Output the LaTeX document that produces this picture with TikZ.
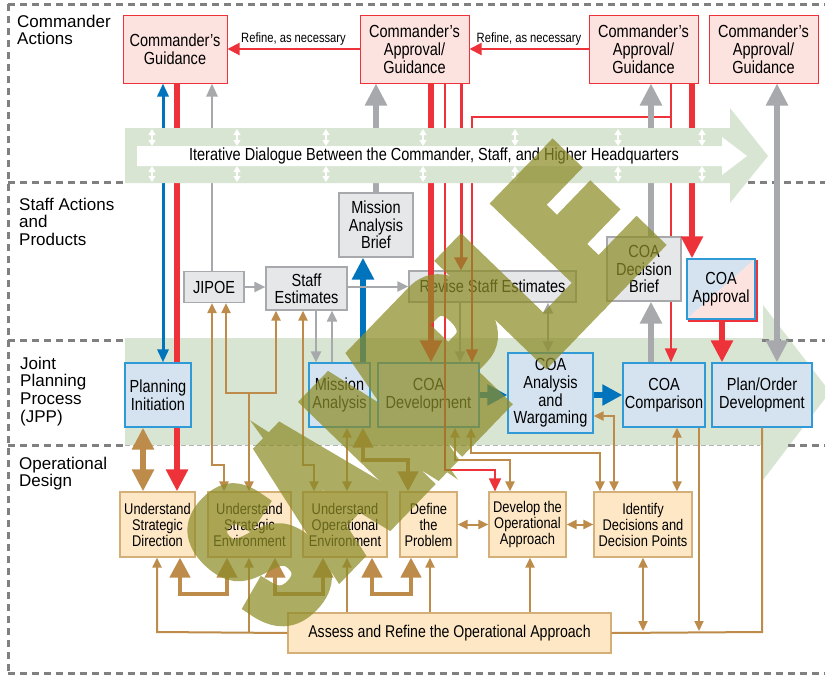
\documentclass[tikz,border=0pt]{standalone}
\usepackage{fontspec}
\setmainfont{Liberation Sans}
\newfontfamily\cond[FakeStretch=0.83]{Liberation Sans}
\newfontfamily\wmfont[FakeStretch=0.66,FakeBold=10]{Liberation Sans}
\usetikzlibrary{arrows.meta,calc}
\definecolor{cred}{HTML}{EE3239}
\definecolor{cpink}{HTML}{FDE3DF}
\definecolor{cblue}{HTML}{0073BD}
\definecolor{cjppb}{HTML}{2F9AD6}
\definecolor{cjppf}{HTML}{D5E3F0}
\definecolor{cgrayl}{HTML}{A7A9AC}
\definecolor{cgrayf}{HTML}{E6E7E8}
\definecolor{corg}{HTML}{BD8B4A}
\definecolor{corgf}{HTML}{FEE7C5}
\definecolor{corgb}{HTML}{D4AF78}
\definecolor{cgreen}{HTML}{D8E5D3}
\definecolor{cdash}{HTML}{808080}
\definecolor{cwm}{RGB}{140,140,40}
\pgfdeclarelayer{bg}
\pgfdeclarelayer{under}
\pgfdeclarelayer{top}
\pgfdeclarelayer{wm}
\pgfsetlayers{bg,under,main,top,wm}
\tikzset{
 tS/.tip={Triangle[width=9pt,length=10pt]},
 tM/.tip={Triangle[width=12pt,length=13pt]},
 tL/.tip={Triangle[width=21pt,length=22pt]},
 tO/.tip={Triangle[width=20pt,length=20pt]},
 tW/.tip={Triangle[width=7pt,length=6pt]},
 boxbase/.style={inner sep=0pt, align=center, line width=1.2pt, text=black},
 cmdbox/.style={boxbase, draw=cred, fill=cpink, line width=1pt, font=\cond\fontsize{17.5}{18}\selectfont},
 stfbox/.style={boxbase, draw=cgrayl, fill=cgrayf, font=\cond\fontsize{17.5}{17.5}\selectfont},
 jppbox/.style={boxbase, draw=cjppb, fill=cjppf, font=\cond\fontsize{17.5}{17.6}\selectfont},
 odbox/.style={boxbase, draw=corgb, fill=corgf, font=\cond\fontsize{15.5}{16}\selectfont},
 seclbl/.style={anchor=north west, inner sep=0pt, align=left, font=\fontsize{17}{17.7}\selectfont},
 reflbl/.style={inner sep=0pt, font=\cond\fontsize{13.5}{14}\selectfont},
 dashln/.style={draw=cdash, line width=3pt, dash pattern=on 7pt off 5pt},
 oline/.style={draw=corg, line width=2pt},
 othick/.style={draw=corg, line width=4.5pt},
 rthick/.style={draw=cred, line width=6pt},
 rline/.style={draw=cred, line width=1.8pt},
 gthick/.style={draw=cgrayl, line width=6pt},
 gline/.style={draw=cgrayl, line width=2pt},
 bthick/.style={draw=cblue, line width=6pt},
 wline/.style={draw=white, line width=1.2pt, tW-tW},
}
\begin{document}
\begin{tikzpicture}[x=1pt,y=-1pt]
\useasboundingbox (0,0) rectangle (825,675);
% ---------------- background
\begin{pgfonlayer}{bg}
\fill[white] (0,0) rectangle (825,675);
\fill[cgreen] (125,338) -- (763,338) -- (763,305) -- (830,392) -- (763,480) -- (763,445) -- (125,445) -- cycle;
\draw[dashln] (8,4) -- (825,4);
\draw[dashln] (8,673) -- (825,673);
\draw[dashln] (8,4) -- (8,673);
\draw[dashln] (8,182) -- (125,182);
\draw[dashln] (748,182) -- (825,182);
\draw[dashln] (8,340) -- (125,340);
\draw[dashln] (762,340) -- (825,340);
\draw[dashln] (8,445) -- (125,445);
\draw[dashln] (788,445) -- (825,445);
\draw[draw=cdash!60, line width=0.8pt, dash pattern=on 5pt off 3pt] (125,445) -- (760,445);
\end{pgfonlayer}
% ---------------- section labels
\node[seclbl] (L1) at (17,14.5) {Commander\\Actions};
\node[seclbl] (L2) at (19,197.5) {Staff Actions\\and\\Products};
\node[seclbl] (L3) at (20,356.5) {Joint\\Planning\\Process\\(JPP)};
\node[seclbl] (L4) at (19,456.5) {Operational\\Design};
% ---------------- commander boxes
\node[cmdbox, minimum width=104pt, minimum height=68pt] (CG) at (175,49) {Commander’s\\Guidance};
\node[cmdbox, minimum width=109pt, minimum height=68pt] (CAG1) at (414.5,49) {Commander’s\\Approval/\\Guidance};
\node[cmdbox, minimum width=109pt, minimum height=68pt] (CAG2) at (643.5,49) {Commander’s\\Approval/\\Guidance};
\node[cmdbox, minimum width=109pt, minimum height=68pt] (CAG3) at (763.5,49) {Commander’s\\Approval/\\Guidance};
% ---------------- staff boxes
\node[stfbox, minimum width=74pt, minimum height=64pt] (MAB) at (376,225) {Mission\\Analysis\\Brief};
\node[stfbox, minimum width=60pt, minimum height=31pt] (JIPOE) at (214,287) {JIPOE};
\node[stfbox, minimum width=81pt, minimum height=43pt] (SE) at (306.5,288.5) {Staff\\Estimates};
\node[stfbox, minimum width=167pt, minimum height=31pt] (RSE) at (492.5,286.5) {Revise Staff Estimates};
\node[stfbox, minimum width=74pt, minimum height=64pt] (COADB) at (644,269) {COA\\Decision\\Brief};
\node[boxbase, draw=cjppb, font=\cond\fontsize{17.5}{18}\selectfont, minimum width=68pt, minimum height=60pt,
  path picture={\fill[cjppf] (path picture bounding box.south west) -- (path picture bounding box.north west) -- (path picture bounding box.north east) -- cycle;
  \fill[cpink] (path picture bounding box.south west) -- (path picture bounding box.south east) -- (path picture bounding box.north east) -- cycle;}]
  (COAA) at (721,289) {COA\\Approval};
\draw[cred, line width=1.3pt] ([shift={(1.5,1.5)}]COAA.north east) -- ([shift={(1.5,1.5)}]COAA.south east) -- ([shift={(1.5,1.5)}]COAA.south west);
% ---------------- JPP boxes
\node[jppbox, minimum width=66pt, minimum height=64pt] (PI) at (158,395) {Planning\\Initiation};
\node[jppbox, minimum width=61pt, minimum height=64pt] (MA) at (339.5,395) {Mission\\Analysis};
\node[jppbox, minimum width=101pt, minimum height=64pt] (COAD) at (428.5,395) {COA\\Development};
\node[jppbox, minimum width=85pt, minimum height=80pt] (COAAW) at (550.5,393) {COA\\Analysis\\and\\Wargaming};
\node[jppbox, minimum width=82pt, minimum height=64pt] (COAC) at (664,395) {COA\\Comparison};
\node[jppbox, minimum width=100pt, minimum height=64pt] (POD) at (762,395) {Plan/Order\\Development};
% ---------------- operational design boxes
\node[odbox, minimum width=75pt, minimum height=65pt] (USD) at (157.5,524.5) {Understand\\Strategic\\Direction};
\node[odbox, minimum width=83pt, minimum height=65pt] (USE) at (249.5,524.5) {Understand\\Strategic\\Environment};
\node[odbox, minimum width=84pt, minimum height=65pt] (UOE) at (345,524.5) {Understand\\Operational\\Environment};
\node[odbox, minimum width=57pt, minimum height=65pt] (DP) at (428.5,524.5) {Define\\the\\Problem};
\node[odbox, minimum width=77pt, minimum height=65pt] (DOA) at (527.5,524.5) {Develop the\\Operational\\Approach};
\node[odbox, minimum width=98pt, minimum height=65pt] (IDDP) at (643,524.5) {Identify\\Decisions and\\Decision Points};
\node[odbox, minimum width=323pt, minimum height=40pt, font=\cond\fontsize{17}{18}\selectfont] (ARO) at (449.5,633) {Assess and Refine the Operational Approach};
% ---------------- connectors under boxes
\begin{pgfonlayer}{under}
\draw[rthick, -tL] (177,0 |- CG.south) -- (177,0 |- USD.north);
\draw[rline, -{Triangle[width=12pt,length=14pt]}] (671,0 |- CAG2.south) -- (671,0 |- COAC.north);
\end{pgfonlayer}
% ---------------- commander level
\draw[draw=cred, line width=2pt, -{Triangle[width=12pt,length=12pt]}] (CAG1.west) -- (CG.east)
  node[reflbl, midway, anchor=south, yshift=2.5pt] {Refine, as necessary};
\draw[draw=cred, line width=2pt, -{Triangle[width=12pt,length=12pt]}] (CAG2.west) -- (CAG1.east)
  node[reflbl, midway, anchor=south, yshift=2.5pt] {Refine, as necessary};
\draw[draw=cblue, line width=3pt, {Triangle[width=11pt,length=13pt]}-{Triangle[width=11pt,length=13pt]}] (163,0 |- CG.south) -- (163,0 |- PI.north);
\draw[draw=cgrayl, line width=2.5pt, -{Triangle[width=11pt,length=13pt]}] (212,0 |- JIPOE.north) -- (212,0 |- CG.south);
\draw[gthick, -tL] (MAB.north) -- (376,0 |- CAG1.south);
\draw[bthick, -tL] (363,0 |- MA.north) -- (363,0 |- MAB.south);
\draw[gline, -{Triangle[width=10pt,length=11pt]}] (JIPOE.east) -- (JIPOE.east -| SE.west);
\draw[gline, -{Triangle[width=10pt,length=11pt]}] (SE.east |- RSE.west) -- (RSE.west);
\draw[gline, -{Triangle[width=10pt,length=11pt]}] (316,0 |- SE.south) -- (316,0 |- MA.north);
\draw[gline, -{Triangle[width=10pt,length=11pt]}] (332,0 |- MA.north) -- (332,0 |- SE.south);
\draw[rthick, -tL] (431,0 |- CAG1.south) -- (431,0 |- COAD.north);
\draw[rline, -{Triangle[width=12pt,length=13pt]}] (445,0 |- CAG1.south) -- (445,470) -- (495,470) -- (495,0 |- DOA.north);
\draw[draw=cred, line width=3pt, -{Triangle[width=13pt,length=13pt]}] (461,0 |- CAG1.south) -- (461,0 |- RSE.north);
\coordinate (J1) at (671,117);
\draw[rline, -{Triangle[width=12pt,length=13pt]}] (J1) -- (472,117) -- (472,0 |- COAD.north);
\draw[gline, -{Triangle[width=10pt,length=11pt]}] (460,0 |- RSE.south) -- (460,0 |- COAD.north);
\draw[gline, {Triangle[width=10pt,length=11pt]}-{Triangle[width=10pt,length=11pt]}] (548,0 |- RSE.south) -- (548,0 |- COAAW.north);
\draw[bthick, -tO] (COAD.east) -- (COAD.east -| COAAW.west);
\draw[bthick, -tO] (COAAW.east |- COAC.west) -- (COAC.west);
\draw[gthick, -tL] (651,0 |- COAC.north) -- (651,0 |- COADB.south);
\draw[gthick, -tL] (651,0 |- COADB.north) -- (651,0 |- CAG2.south);
\draw[rthick, -tL] (692,0 |- CAG2.south) -- (692,0 |- COAA.north);
\draw[rthick, -tL] (722,0 |- COAA.south) -- (722,0 |- POD.north);
\draw[gthick, tL-tL] (777,0 |- CAG3.south) -- (777,0 |- POD.north);
% ---------------- operational design links
\draw[draw=corg, line width=6pt, tL-tL] (143,0 |- PI.south) -- (143,0 |- USD.north);
\draw[oline, tS-tS] (212,0 |- JIPOE.south) -- (212,465) -- (224,465) -- (224,0 |- USE.north);
\coordinate (J2) at (249,393);
\draw[oline, tS-tS] (226,0 |- JIPOE.south) -- (226,393) -- (276,393) -- (276,0 |- SE.south);
\draw[oline, -tS] (J2) -- (249,0 |- USE.north);
\draw[oline, tS-tS] (303,0 |- SE.south) -- (303,465) -- (314,465) -- (314,0 |- UOE.north);
\draw[oline, tS-tS] (347,0 |- MA.south) -- (347,0 |- UOE.north);
\draw[othick, tO-tO] (363,0 |- MA.south) -- (363,460) -- (408,460) -- (408,0 |- DP.north);
\draw[oline, tS-tS] (455,0 |- COAD.south) -- (455,460) -- (510,460) -- (510,0 |- DOA.north);
\draw[oline, tS-tS] (471,0 |- COAD.south) -- (471,453) -- (600,453) -- (600,0 |- IDDP.north);
\draw[oline, tS-tS] (COAAW.east |- 0,416) -- (614,416) -- (614,0 |- IDDP.north);
\draw[oline, tS-tS] (677,0 |- COAC.south) -- (677,0 |- IDDP.north);
\coordinate (J3) at (699,631);
\coordinate (J4) at (643,631);
\draw[oline, -tS] (699,0 |- COAC.south) -- (J3);
\draw[oline, tS-tS] (643,0 |- IDDP.south) -- (J4);
\draw[oline] (POD.south) -- (762,632) -- (ARO.east);
\draw[oline, -tS] (ARO.west) -- (157,632) -- (157,0 |- USD.south);
\coordinate (J5) at (249,632);
\draw[oline, -tS] (J5) -- (249,0 |- USE.south);
\draw[oline, -tS] (347,0 |- ARO.north) -- (347,0 |- UOE.south);
\draw[oline, -tS] (430,0 |- ARO.north) -- (430,0 |- DP.south);
\draw[oline, -tS] (530,0 |- ARO.north) -- (530,0 |- DOA.south);
\draw[othick, tO-tO] (180,0 |- USD.south) -- (180,594) -- (227,594) -- (227,0 |- USE.south);
\draw[othick, tO-tO] (275,0 |- USE.south) -- (275,594) -- (323,594) -- (323,0 |- UOE.south);
\draw[othick, tO-tO] (372,0 |- UOE.south) -- (372,594) -- (411,594) -- (411,0 |- DP.south);
\draw[oline, tS-tS] (DP.east) -- (DOA.west);
\draw[oline, tS-tS] (DOA.east) -- (IDDP.west);
% ---------------- top dialogue arrow
\begin{pgfonlayer}{top}
\fill[cgreen] (125,128) -- (730,128) -- (730,108) -- (768,156) -- (730,203) -- (730,183) -- (125,183) -- cycle;
\fill[white] (137,146) -- (722,146) -- (722,137) -- (747,156) -- (722,175) -- (722,166) -- (137,166) -- cycle;
\node[inner sep=0pt, font=\cond\fontsize{17.5}{18}\selectfont] (DLG) at (434,156) {Iterative Dialogue Between the Commander, Staff, and Higher Headquarters};
\foreach \xx in {152,237,326,423,515,618,702} {
  \draw[wline] (\xx,129) -- (\xx,146);
  \draw[wline] (\xx,166) -- (\xx,182);
}
\end{pgfonlayer}
% ---------------- watermark
\begin{pgfonlayer}{wm}
\begin{scope}[transparency group, opacity=0.72]
\node[rotate=46, text=cwm, inner sep=0pt, font=\wmfont\bfseries\fontsize{198}{198}\selectfont] (WM) at (418,390) {SAMPLE};
\end{scope}
\end{pgfonlayer}
\end{tikzpicture}
\end{document}
